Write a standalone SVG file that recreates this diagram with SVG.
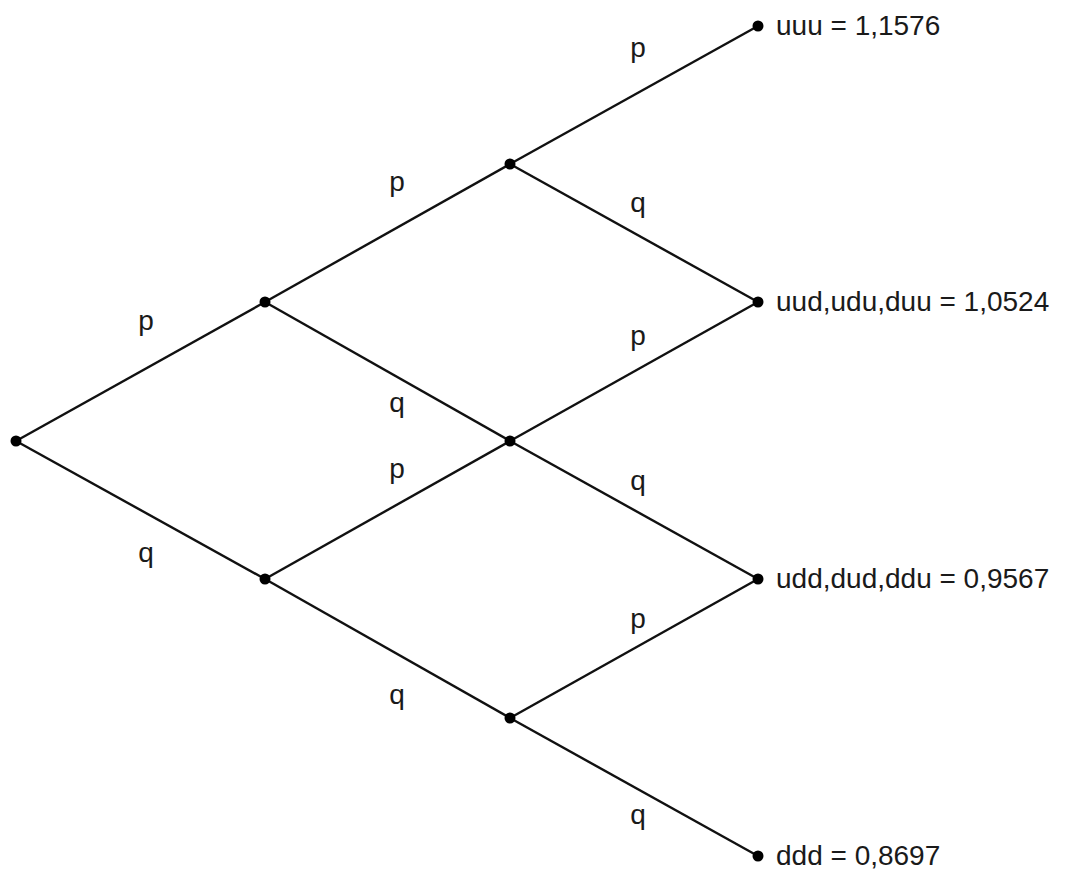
<svg xmlns="http://www.w3.org/2000/svg" width="1066" height="870" viewBox="0 0 1066 870">
<style>
.e{stroke:#111;stroke-width:2.4;fill:none}
.n{fill:#000}
.t{font-family:"Liberation Sans",Arial,sans-serif;font-size:28px;fill:#1a1a1a}
.l{text-anchor:middle}
</style>
<rect width="1066" height="870" fill="#fff"/>
<g id="connectors">
<line class="e" x1="16" y1="441" x2="265" y2="302"/>
<line class="e" x1="16" y1="441" x2="265" y2="579"/>
<line class="e" x1="265" y1="302" x2="510" y2="164"/>
<line class="e" x1="265" y1="302" x2="510" y2="441"/>
<line class="e" x1="265" y1="579" x2="510" y2="441"/>
<line class="e" x1="265" y1="579" x2="510" y2="718"/>
<line class="e" x1="510" y1="164" x2="758" y2="26"/>
<line class="e" x1="510" y1="164" x2="758" y2="302"/>
<line class="e" x1="510" y1="441" x2="758" y2="302"/>
<line class="e" x1="510" y1="441" x2="758" y2="579"/>
<line class="e" x1="510" y1="718" x2="758" y2="579"/>
<line class="e" x1="510" y1="718" x2="758" y2="856"/>
<text class="t l" x="146" y="330">p</text>
<text class="t l" x="146" y="562">q</text>
<text class="t l" x="397" y="191">p</text>
<text class="t l" x="397" y="412">q</text>
<text class="t l" x="397" y="478">p</text>
<text class="t l" x="397" y="704">q</text>
<text class="t l" x="638" y="57">p</text>
<text class="t l" x="638" y="212">q</text>
<text class="t l" x="638" y="345">p</text>
<text class="t l" x="638" y="490">q</text>
<text class="t l" x="638" y="628">p</text>
<text class="t l" x="638" y="824">q</text>
</g>
<g id="n0"><circle class="n" cx="16" cy="441" r="5.5"/></g>
<g id="n1"><circle class="n" cx="265" cy="302" r="5.5"/></g>
<g id="n2"><circle class="n" cx="265" cy="579" r="5.5"/></g>
<g id="n3"><circle class="n" cx="510" cy="164" r="5.5"/></g>
<g id="n4"><circle class="n" cx="510" cy="441" r="5.5"/></g>
<g id="n5"><circle class="n" cx="510" cy="718" r="5.5"/></g>
<g id="n6"><circle class="n" cx="758" cy="26" r="5.5"/><text class="t" x="776" y="35">uuu = 1,1576</text></g>
<g id="n7"><circle class="n" cx="758" cy="302" r="5.5"/><text class="t" x="776" y="311">uud,udu,duu = 1,0524</text></g>
<g id="n8"><circle class="n" cx="758" cy="579" r="5.5"/><text class="t" x="776" y="588">udd,dud,ddu = 0,9567</text></g>
<g id="n9"><circle class="n" cx="758" cy="856" r="5.5"/><text class="t" x="776" y="865">ddd = 0,8697</text></g>
</svg>
